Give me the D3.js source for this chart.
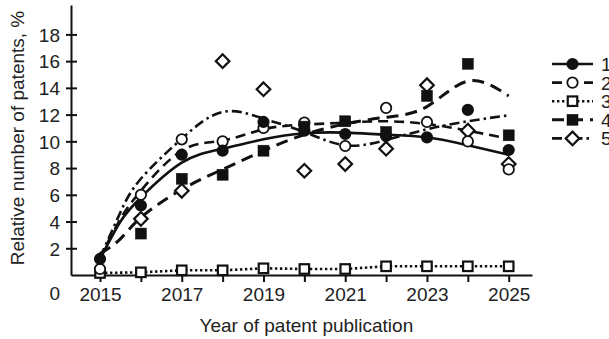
<!DOCTYPE html>
<html>
<head>
<meta charset="utf-8">
<script src="https://cdn.jsdelivr.net/npm/d3@7"></script>
<style>
  body { margin: 0; background: #fff; }
  text { font-family: "Liberation Sans", Arial, sans-serif; fill: #222; }
</style>
</head>
<body>
<div id="chart"></div>
<script>
const years = [2015, 2016, 2017, 2018, 2019, 2020, 2021, 2022, 2023, 2024, 2025];
const trendYears = [2015, 2015.5, 2016, 2017, 2018, 2019, 2020, 2021, 2022, 2023, 2024, 2025];
const xTicks = [2015, 2017, 2019, 2021, 2023, 2025];
const xMinorTicks = [2016, 2018, 2020, 2022, 2024];
const yTicks = [2, 4, 6, 8, 10, 12, 14, 16, 18];
const seriesNames = ['1', '2', '3', '4', '5'];

// measured points, % (null = no marker)
const pts1 = [1.2, 5.2, 9.0, 9.3, 11.45, 10.8, 10.55, 10.4, 10.3, 12.35, 9.35];
const pts2 = [0.45, 6.0, 10.15, 10.0, 11.0, 11.4, 9.65, 12.5, 11.45, 10.0, 7.9];
const pts3 = [0.15, 0.2, 0.35, 0.35, 0.5, 0.45, 0.45, 0.65, 0.65, 0.65, 0.65];
const pts4 = [null, 3.1, 7.2, 7.5, 9.3, 11.1, 11.5, 10.7, 13.4, 15.8, 10.45];
const pts5 = [null, 4.2, 6.3, 16.0, 13.9, 7.8, 8.3, 9.45, 14.2, 10.8, 8.3];

// trend curves (at trendYears)
const trend1 = [1.2, 4.0, 5.8, 8.4, 9.45, 10.15, 10.6, 10.65, 10.5, 10.3, 9.7, 9.0];
const trend2 = [1.3, 4.2, 6.3, 9.3, 10.05, 10.9, 11.25, 11.4, 11.5, 11.3, 10.8, 10.2];
const trend4 = [1.6, 2.7, 4.3, 6.4, 7.9, 9.3, 10.5, 11.3, 11.8, 12.6, 14.5, 13.4];
const trend5 = [1.3, 4.7, 7.2, 10.2, 12.2, 11.7, 10.7, 9.7, 10.1, 10.9, 11.5, 11.95];

const width = 609;
const height = 339;
const margin = {left: 71, right: 77, top: 5, bottom: 64};
const innerWidth = width - margin.left - margin.right;
const innerHeight = height - margin.top - margin.bottom;

const svg = d3.select('#chart').append('svg')
  .attr('width', width)
  .attr('height', height);
const g = svg.append('g')
  .attr('transform', `translate(${margin.left},${margin.top})`);

const xScale = d3.scaleLinear()
  .domain([2014.29, 2025.57])
  .range([0, innerWidth]);
const yScale = d3.scaleLinear()
  .domain([0, 20.2])
  .range([innerHeight, 0]);

// axes
const xAxis = d3.axisBottom(xScale)
  .tickValues(xTicks.concat(xMinorTicks))
  .tickFormat(d => xTicks.includes(d) ? d : '')
  .tickSizeInner(7)
  .tickSizeOuter(0)
  .tickPadding(5);
const yAxis = d3.axisLeft(yScale)
  .tickValues(yTicks)
  .tickSizeInner(5)
  .tickSizeOuter(0)
  .tickPadding(6);

const xAxisG = g.append('g')
  .attr('transform', `translate(0,${innerHeight})`)
  .call(xAxis);
const yAxisG = g.append('g').call(yAxis);

[xAxisG, yAxisG].forEach(a => {
  a.select('.domain').attr('stroke', '#111').attr('stroke-width', 2);
  a.selectAll('.tick line').attr('stroke', '#111').attr('stroke-width', 2);
  a.selectAll('.tick text').attr('font-size', 19).attr('fill', '#222')
    .style('font-family', '"Liberation Sans", Arial, sans-serif');
});
// y ticks cross the axis line
yAxisG.selectAll('.tick line').attr('x1', 6);
xAxisG.selectAll('.tick text').attr('dy', '0.72em');
yAxisG.selectAll('.tick text').attr('dy', '0.36em');

// origin label
g.append('text')
  .attr('x', -11)
  .attr('y', innerHeight + 25)
  .attr('text-anchor', 'end')
  .attr('font-size', 19)
  .text('0');

g.append('text')
  .attr('x', xScale(2020) + 2)
  .attr('y', innerHeight + 57)
  .attr('text-anchor', 'middle')
  .attr('font-size', 19)
  .text('Year of patent publication');

svg.append('text')
  .attr('transform', `translate(24,${margin.top + 133}) rotate(-90)`)
  .attr('text-anchor', 'middle')
  .attr('font-size', 19)
  .text('Relative number of patents, %');

const series = [
  {name: seriesNames[0], pts: pts1, trend: trend1, dash: null, w: 2.6, marker: 'circle', fill: '#111'},
  {name: seriesNames[1], pts: pts2, trend: trend2, dash: '10,6', w: 2.6, marker: 'circle', fill: '#fff'},
  {name: seriesNames[2], pts: pts3, trend: null, dash: '2.4,2.6', w: 2.6, marker: 'square', fill: '#fff'},
  {name: seriesNames[3], pts: pts4, trend: trend4, dash: '12,7', w: 3, marker: 'square', fill: '#111'},
  {name: seriesNames[4], pts: pts5, trend: trend5, dash: '10,4,2.5,4', w: 2.6, marker: 'diamond', fill: '#fff'}
];

const curve = d3.line()
  .x((d, i) => xScale(trendYears[i]))
  .y(d => yScale(d))
  .curve(d3.curveNatural);
const straight = d3.line()
  .x((d, i) => xScale(years[i]))
  .y(d => yScale(d));

series.forEach(s => {
  g.append('path')
    .attr('d', s.trend ? curve(s.trend) : straight(s.pts))
    .attr('fill', 'none')
    .attr('stroke', '#111')
    .attr('stroke-width', s.w)
    .attr('stroke-dasharray', s.dash);
});

function drawMarker(sel, type, fill) {
  if (type === 'circle') {
    sel.append('circle').attr('r', 5.2)
      .attr('fill', fill).attr('stroke', '#111').attr('stroke-width', 1.8);
  } else if (type === 'square') {
    const a = fill === '#fff' ? 9.5 : 11;
    sel.append('rect').attr('x', -a / 2).attr('y', -a / 2)
      .attr('width', a).attr('height', a)
      .attr('fill', fill).attr('stroke', '#111').attr('stroke-width', fill === '#fff' ? 2.2 : 0.5);
  } else {
    sel.append('path').attr('d', 'M0,-6.8L6.8,0L0,6.8L-6.8,0Z')
      .attr('fill', fill).attr('stroke', '#111').attr('stroke-width', 2.2);
  }
}

// draw order: squares(3), diamonds, open circles, filled squares, filled circles
[2, 4, 1, 3, 0].forEach(k => {
  const s = series[k];
  s.pts.forEach((v, i) => {
    if (v === null) return;
    const m = g.append('g')
      .attr('transform', `translate(${xScale(years[i])},${yScale(v)})`);
    drawMarker(m, s.marker, s.fill);
  });
});

// legend
const legend = svg.append('g').attr('transform', 'translate(552,64)');
series.forEach((s, i) => {
  const row = legend.append('g').attr('transform', `translate(0,${i * 18.6})`);
  row.append('line')
    .attr('x1', 0).attr('x2', 41)
    .attr('stroke', '#111')
    .attr('stroke-width', s.w)
    .attr('stroke-dasharray', s.dash);
  const m = row.append('g').attr('transform', 'translate(20.5,0)');
  drawMarker(m, s.marker, s.fill);
  row.append('text')
    .attr('x', 49)
    .attr('y', 7)
    .attr('font-size', 19)
    .text(s.name);
});
</script>
</body>
</html>
